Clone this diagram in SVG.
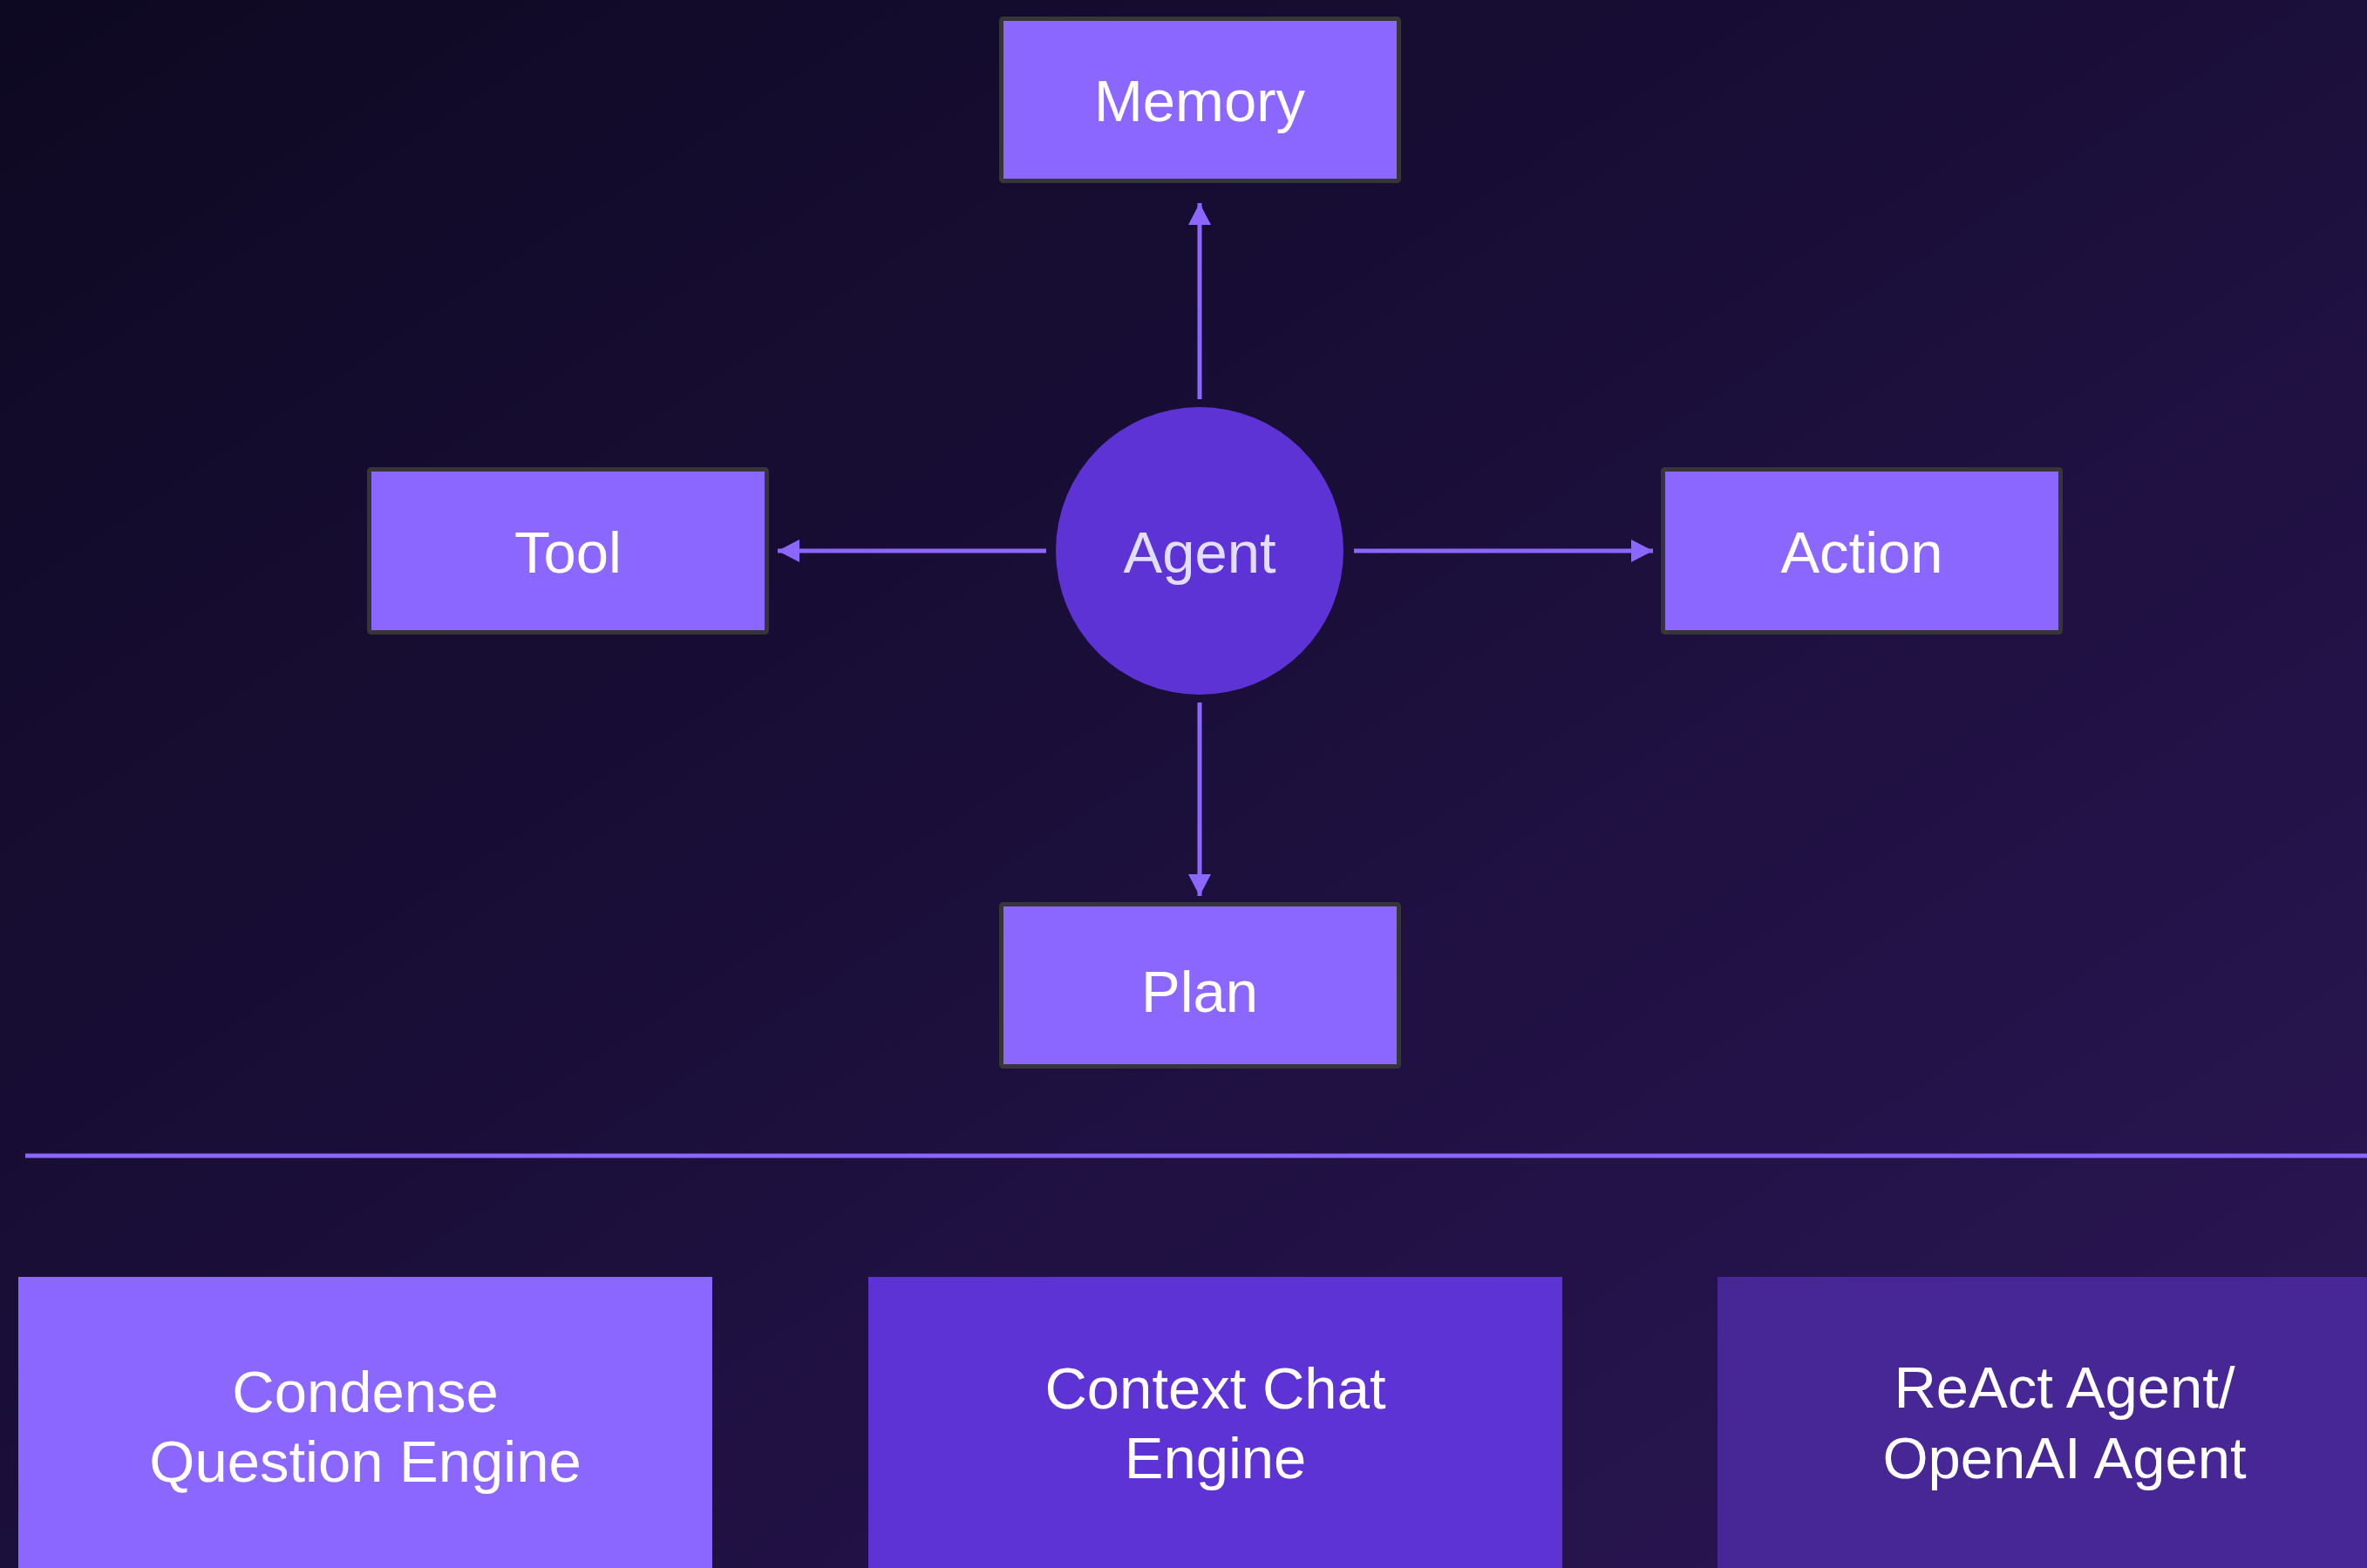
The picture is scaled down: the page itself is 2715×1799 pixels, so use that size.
<svg xmlns="http://www.w3.org/2000/svg" width="2715" height="1799" viewBox="0 0 2715 1799">
  <defs>
    <linearGradient id="bg" x1="0" y1="0" x2="1" y2="1">
      <stop offset="0" stop-color="#0e0922"/>
      <stop offset="0.5" stop-color="#1b0f3b"/>
      <stop offset="1" stop-color="#2c1656"/>
    </linearGradient>
    <marker id="arrow" markerUnits="userSpaceOnUse" markerWidth="25" markerHeight="26" viewBox="0 0 25 26" refX="25" refY="13" orient="auto">
      <path d="M0,0 L25,13 L0,26 z" fill="#8b66ff"/>
    </marker>
  </defs>
  <style>
    .box { fill: #8b66ff; stroke: #363636; stroke-width: 5; }
    .lbl { font-family: "Liberation Sans", Arial, sans-serif; font-size: 67px; fill: #ffffff; text-anchor: middle; }
    .conn { stroke: #8b66ff; stroke-width: 5; fill: none; }
  </style>
  <rect x="0" y="0" width="2715" height="1799" fill="url(#bg)"/>

  <g id="connectors">
    <line class="conn" x1="1376" y1="458" x2="1376" y2="233" marker-end="url(#arrow)"/>
    <line class="conn" x1="1200" y1="632" x2="892" y2="632" marker-end="url(#arrow)"/>
    <line class="conn" x1="1553" y1="632" x2="1896" y2="632" marker-end="url(#arrow)"/>
    <line class="conn" x1="1376" y1="806" x2="1376" y2="1028" marker-end="url(#arrow)"/>
  </g>

  <g id="memory">
    <rect class="box" x="1148.5" y="21.5" width="456" height="186" rx="2"/>
    <text class="lbl" x="1376" y="139">Memory</text>
  </g>
  <g id="tool">
    <rect class="box" x="423.5" y="538.5" width="456" height="187" rx="2"/>
    <text class="lbl" x="651.5" y="657">Tool</text>
  </g>
  <g id="action">
    <rect class="box" x="1907.5" y="538.5" width="456" height="187" rx="2"/>
    <text class="lbl" x="2135.5" y="657">Action</text>
  </g>
  <g id="plan">
    <rect class="box" x="1148.5" y="1037.5" width="456" height="186" rx="2"/>
    <text class="lbl" x="1376" y="1161">Plan</text>
  </g>
  <g id="agent">
    <circle cx="1376" cy="632" r="165" fill="#5e33d6"/>
    <text class="lbl" x="1376" y="657" style="fill:#e2deff">Agent</text>
  </g>

  <line id="separator" x1="29" y1="1326" x2="2715" y2="1326" stroke="#8b66ff" stroke-width="5"/>

  <g id="condense">
    <rect x="21" y="1465" width="796" height="340" fill="#8b66ff"/>
    <text class="lbl" x="419" y="1620">Condense</text>
    <text class="lbl" x="419" y="1700">Question Engine</text>
  </g>
  <g id="context-chat">
    <rect x="996" y="1465" width="796" height="340" fill="#5e33d6"/>
    <text class="lbl" x="1394" y="1616">Context Chat</text>
    <text class="lbl" x="1394" y="1696">Engine</text>
  </g>
  <g id="react-agent">
    <rect x="1970" y="1465" width="796" height="340" fill="#472696"/>
    <text class="lbl" x="2368" y="1615">ReAct Agent/</text>
    <text class="lbl" x="2368" y="1696">OpenAI Agent</text>
  </g>
</svg>
